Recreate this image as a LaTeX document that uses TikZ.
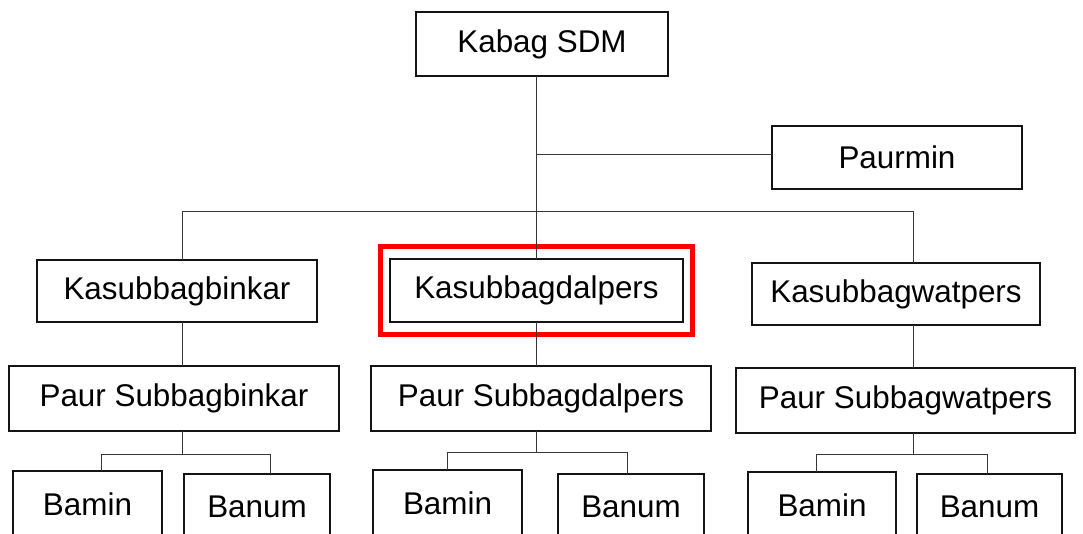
\documentclass[tikz,border=0pt]{standalone}
\usepackage{fontspec}
\setmainfont{Liberation Sans}
\usepackage{tikz}
\usetikzlibrary{positioning, calc, fit}
\definecolor{myred}{RGB}{255,0,0}
\definecolor{mydark}{RGB}{20,20,20}
\tikzset{
  unitbox/.style={rectangle, draw=mydark, fill=white, line width=1pt,
    outer sep=0pt, inner sep=0pt, align=center},
  staffbox/.style={unitbox, minimum height=33pt},
  focusframe/.style={rectangle, draw=myred, line width=2.6pt,
    inner xsep=4.6pt, inner ysep=6.4pt},
  conn/.style={line width=0.5pt, color=mydark!85}
}

\begin{document}
\begin{tikzpicture}[x=0.5pt, y=-0.5pt, every node/.style={font=\fontsize{15.7}{19}\selectfont}]
  \useasboundingbox (0,0) rectangle (1083,534);
  \clip (0,0) rectangle (1083,534);

  % Top level
  \node[unitbox, minimum width=126pt, minimum height=32pt] (kabag) at (542,44) {Kabag SDM};
  \node[unitbox, minimum width=125pt, minimum height=31.5pt] (paurmin) at (897,157.5) {Paurmin};

  % Sub-sections
  \node[unitbox, minimum width=140pt, minimum height=31pt] (binkar) at (177,291) {Kasubbagbinkar};
  \node[unitbox, minimum width=146.5pt, minimum height=31.5pt] (dalpers) at (536.5,290.5) {Kasubbagdalpers};
  \node[unitbox, minimum width=144pt, minimum height=31pt] (watpers) at (896,294) {Kasubbagwatpers};
  \node[focusframe, fit=(dalpers)] (focus) {};

  % Paur level
  \node[unitbox, minimum width=165pt, minimum height=32.5pt] (paurbinkar) at (174,398.5) {Paur Subbagbinkar};
  \node[unitbox, minimum width=170pt, minimum height=32.5pt] (paurdalpers) at (541,398.5) {Paur Subbagdalpers};
  \node[unitbox, minimum width=169.5pt, minimum height=32.5pt] (paurwatpers) at (905.5,400.5) {Paur Subbagwatpers};

  % Staff level (cut at the bottom edge)
  \node[staffbox, minimum width=74.5pt] (bamina) at (87.5,504) {Bamin};
  \node[staffbox, minimum width=73pt] (banuma) at (257,507) {Banum};
  \node[staffbox, minimum width=74.5pt] (baminb) at (447.5,503) {Bamin};
  \node[staffbox, minimum width=73pt] (banumb) at (631,507) {Banum};
  \node[staffbox, minimum width=74pt] (baminc) at (822,505) {Bamin};
  \node[staffbox, minimum width=72.5pt] (banumc) at (989.5,507) {Banum};

  % Junction points
  \coordinate (trunk) at (536,212);
  \coordinate (side) at (536,155);
  \coordinate (lbus) at (182,212);
  \coordinate (rbus) at (913,212);
  \coordinate (lstem) at (182,455);
  \coordinate (la) at (101,455);
  \coordinate (lb) at (270,455);
  \coordinate (mstem) at (536,453);
  \coordinate (ma) at (447,453);
  \coordinate (mb) at (627,453);
  \coordinate (rstem) at (913,455);
  \coordinate (ra) at (816,455);
  \coordinate (rb) at (987,455);

  % Connectors
  \draw[conn] (kabag.south -| trunk) -- (dalpers.north -| trunk);
  \draw[conn] (side) -- (side -| paurmin.west);
  \draw[conn] (binkar.north -| lbus) -- (lbus) -- (rbus) -- (watpers.north -| rbus);

  \draw[conn] (binkar.south -| lstem) -- (paurbinkar.north -| lstem);
  \draw[conn] (dalpers.south -| mstem) -- (paurdalpers.north -| mstem);
  \draw[conn] (watpers.south -| rstem) -- (paurwatpers.north -| rstem);

  \draw[conn] (paurbinkar.south -| lstem) -- (lstem);
  \draw[conn] (bamina.north -| la) -- (la) -- (lb) -- (banuma.north -| lb);
  \draw[conn] (paurdalpers.south -| mstem) -- (mstem);
  \draw[conn] (baminb.north -| ma) -- (ma) -- (mb) -- (banumb.north -| mb);
  \draw[conn] (paurwatpers.south -| rstem) -- (rstem);
  \draw[conn] (baminc.north -| ra) -- (ra) -- (rb) -- (banumc.north -| rb);
\end{tikzpicture}
\end{document}
